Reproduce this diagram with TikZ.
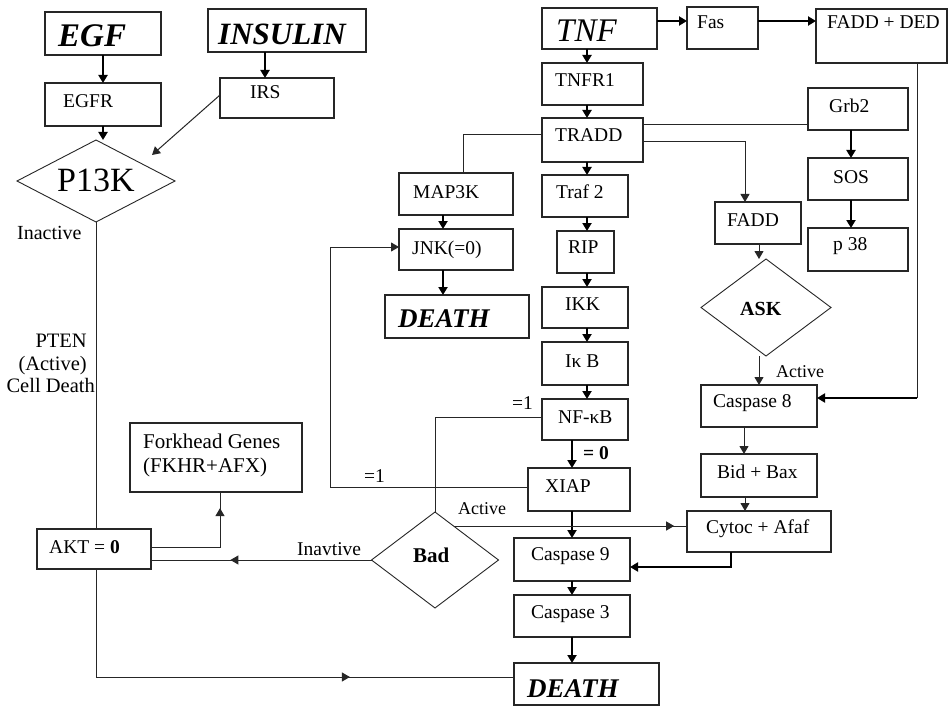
\documentclass[tikz,border=0pt]{standalone}
\usepackage{fontspec}
\setmainfont{Liberation Serif}
\usetikzlibrary{arrows.meta,shapes.geometric,decorations.markings,calc}
\begin{document}
\begin{tikzpicture}[x=1pt,y=-1pt,
  bx/.style={draw=black!85,line width=1.1pt,inner sep=0pt,outer sep=0pt},
  dia/.style={diamond,draw=black!85,line width=0.9pt,inner sep=0pt,outer sep=0pt},
  tx/.style={inner sep=0pt,anchor=base west,font=\fontsize{19.5}{22}\selectfont},
  txe/.style={inner sep=0pt,anchor=base east,font=\fontsize{20.5}{22}\selectfont},
  ln/.style={draw=black!85,line width=1pt},
  thk/.style={draw=black,line width=2.4pt},
  tip/.style={-{Triangle[length=8pt,width=9pt]}},
  midarr/.style={postaction={decorate,decoration={markings,mark=at position #1 with {\arrow{Triangle[length=8pt,width=9pt]}}}}},
]
\fill[white] (0,0) rectangle (951,706);
\useasboundingbox (0,0) rectangle (951,706);

% ---- boxes ----
\node[bx,minimum width=116pt,minimum height=43pt] (egf) at (103,33.5) {};
\node[bx,minimum width=158pt,minimum height=43pt] (insulin) at (287,30.5) {};
\node[bx,minimum width=116pt,minimum height=43pt] (egfr) at (103,104.5) {};
\node[bx,minimum width=114pt,minimum height=40pt] (irs) at (277,98) {};
\node[dia,minimum width=158pt,minimum height=82pt] (p13k) at (96,181) {};
\node[bx,minimum width=115pt,minimum height=41pt] (tnf) at (599.5,28.5) {};
\node[bx,minimum width=71pt,minimum height=42pt] (fas) at (722.5,28) {};
\node[bx,minimum width=131pt,minimum height=54pt] (fadded) at (881.5,36) {};
\node[bx,minimum width=101pt,minimum height=42pt] (tnfr1) at (592.5,84) {};
\node[bx,minimum width=101pt,minimum height=44pt] (tradd) at (592.5,140) {};
\node[bx,minimum width=100pt,minimum height=42pt] (grb2) at (858,109) {};
\node[bx,minimum width=100pt,minimum height=42pt] (sos) at (858,179) {};
\node[bx,minimum width=100pt,minimum height=43pt] (p38) at (858,249.5) {};
\node[bx,minimum width=114pt,minimum height=42pt] (map3k) at (456,194) {};
\node[bx,minimum width=86pt,minimum height=42pt] (traf2) at (585,196) {};
\node[bx,minimum width=86pt,minimum height=42pt] (fadd) at (758,223) {};
\node[bx,minimum width=114pt,minimum height=41pt] (jnk) at (456,249.5) {};
\node[bx,minimum width=57pt,minimum height=42pt] (rip) at (585.5,252) {};
\node[bx,minimum width=144pt,minimum height=43pt] (death1) at (457,316.5) {};
\node[bx,minimum width=86pt,minimum height=41pt] (ikk) at (585,307.5) {};
\node[bx,minimum width=86pt,minimum height=43pt] (ikb) at (585,363.5) {};
\node[dia,minimum width=130pt,minimum height=97pt] (ask) at (766,307.5) {};
\node[bx,minimum width=86pt,minimum height=41pt] (nfkb) at (585,419.5) {};
\node[bx,minimum width=116pt,minimum height=42pt] (casp8) at (759,406) {};
\node[bx,minimum width=116pt,minimum height=43pt] (bidbax) at (759,475.5) {};
\node[bx,minimum width=172pt,minimum height=69pt] (forkhead) at (216,457.5) {};
\node[bx,minimum width=102pt,minimum height=43pt] (xiap) at (579,489.5) {};
\node[bx,minimum width=144pt,minimum height=41pt] (cytoc) at (759,531.5) {};
\node[bx,minimum width=114pt,minimum height=40pt] (akt) at (94,549) {};
\node[dia,minimum width=127pt,minimum height=96pt] (bad) at (435,560) {};
\node[bx,minimum width=116pt,minimum height=43pt] (casp9) at (572,559.5) {};
\node[bx,minimum width=116pt,minimum height=42pt] (casp3) at (572,616) {};
\node[bx,minimum width=145pt,minimum height=42pt] (death2) at (586.5,684) {};

% ---- texts in boxes ----
\node[tx,font=\fontsize{33}{35}\selectfont\bfseries\itshape] (tEgf) at (58,47) {EGF};
\node[tx,font=\fontsize{31}{34}\selectfont\bfseries\itshape] (tIns) at (218,45) {INSULIN};
\node[tx] (tEgfr) at (63,108) {EGFR};
\node[tx] (tIrs) at (250,99) {IRS};
\node[tx,font=\fontsize{34}{36}\selectfont] (tP13k) at (57,192) {P13K};
\node[tx,font=\fontsize{33}{35}\selectfont\itshape] (tTnf) at (556,42) {TNF};
\node[tx] (tFas) at (697,29) {Fas};
\node[tx] (tFadded) at (827,29) {FADD + DED};
\node[tx] (tTnfr1) at (555,87) {TNFR1};
\node[tx] (tTradd) at (555,142) {TRADD};
\node[tx] (tGrb2) at (829,113) {Grb2};
\node[tx] (tSos) at (833,183) {SOS};
\node[tx] (tP38) at (833,251) {p 38};
\node[tx] (tMap3k) at (413,198) {MAP3K};
\node[tx] (tTraf2) at (556,199) {Traf 2};
\node[tx] (tFadd) at (727,226) {FADD};
\node[tx] (tJnk) at (412,254) {JNK(=0)};
\node[tx] (tRip) at (568,253) {RIP};
\node[tx,font=\fontsize{27}{30}\selectfont\bfseries\itshape] (tDeath1) at (398,327) {DEATH};
\node[tx] (tIkk) at (565,310) {IKK};
\node[tx] (tIkb) at (565,367) {Iκ B};
\node[tx,font=\fontsize{20}{22}\selectfont\bfseries] (tAsk) at (740,315) {ASK};
\node[tx] (tNfkb) at (558,423) {NF-κB};
\node[tx] (tCasp8) at (713,407) {Caspase 8};
\node[tx] (tBid) at (717,478) {Bid + Bax};
\node[tx,font=\fontsize{21}{23}\selectfont] (tFork1) at (143,448) {Forkhead Genes};
\node[tx,font=\fontsize{21}{23}\selectfont] (tFork2) at (143,472) {(FKHR+AFX)};
\node[tx] (tXiap) at (545,492) {XIAP};
\node[tx] (tCytoc) at (706,533) {Cytoc + Afaf};
\node[tx] (tAkt) at (49,553) {AKT = \textbf{0}};
\node[tx,font=\fontsize{21}{23}\selectfont\bfseries] (tBad) at (413,562) {Bad};
\node[tx] (tCasp9) at (531,560) {Caspase 9};
\node[tx] (tCasp3) at (531,618) {Caspase 3};
\node[tx,font=\fontsize{27}{30}\selectfont\bfseries\itshape] (tDeath2) at (527,697) {DEATH};

% ---- free labels ----
\node[tx,font=\fontsize{20}{22}\selectfont] (lInact) at (17,240) {Inactive};
\node[txe] (lPten) at (87,347) {PTEN};
\node[txe] (lAct) at (87,370) {(Active)};
\node[txe] (lCell) at (95,392) {Cell Death};
\node[tx] (lEq1a) at (512,409) {=1};
\node[tx,font=\fontsize{19.5}{22}\selectfont\bfseries] (lEq0) at (583,459) {= 0};
\node[tx] (lEq1b) at (364,482) {=1};
\node[tx,font=\fontsize{18}{20}\selectfont] (lActBad) at (458,514) {Active};
\node[tx,font=\fontsize{18}{20}\selectfont] (lActAsk) at (776,377) {Active};
\node[tx] (lInav) at (297,555) {Inavtive};

% ---- column coordinates ----
\coordinate (cA) at (587,0);
\coordinate (cB) at (572,0);
\coordinate (cL) at (330,0);
\coordinate (cR) at (917,0);
\coordinate (cK) at (759,0);
\coordinate (cP) at (152,155);
\coordinate (badNE) at ($(bad.north)+(18.5,14)$);

% ---- connectors ----
\draw[thk,tip] (egf.south) -- (egfr.north);
\draw[thk,tip] ([xshift=-22pt]insulin.south) -- ([xshift=-12pt]irs.north);
\draw[thk,tip] (egfr.south) -- (egfr.south |- p13k.north);
\draw[ln,tip] ([yshift=3pt]irs.west) -- (cP);
\draw[ln] (p13k.south) -- (p13k.south |- akt.north);
\draw[ln,midarr=0.688] (akt.south -| p13k.south) |- ([yshift=7pt]death2.west);
\draw[ln,midarr=0.87] ([yshift=2pt]akt.east) -| ([xshift=4pt]forkhead.south);
\draw[ln,midarr=0.64] (bad.west) -- (bad.west -| akt.east);

\draw[thk,tip] (tnf.south -| cA) -- (tnfr1.north -| cA);
\draw[thk,tip] (tnfr1.south -| cA) -- (tradd.north -| cA);
\draw[thk,tip] (tradd.south -| cA) -- (traf2.north -| cA);
\draw[thk,tip] (traf2.south -| cA) -- (rip.north -| cA);
\draw[thk,tip] (rip.south -| cA) -- (ikk.north -| cA);
\draw[thk,tip] (ikk.south -| cA) -- (ikb.north -| cA);
\draw[thk,tip] (ikb.south -| cA) -- (nfkb.north -| cA);
\draw[thk,tip] (nfkb.south -| cB) -- (xiap.north -| cB);
\draw[thk,tip] (xiap.south -| cB) -- (casp9.north -| cB);
\draw[thk,tip] (casp9.south -| cB) -- (casp3.north -| cB);
\draw[thk,tip] (casp3.south -| cB) -- (death2.north -| cB);

\draw[thk,tip] ([yshift=7.5pt]tnf.east) -- ([yshift=7.5pt]tnf.east -| fas.west);
\draw[thk,tip] ([yshift=7pt]fas.east) -- ([yshift=7pt]fas.east -| fadded.west);
\draw[ln] (fadded.south -| cR) -- ([yshift=8pt]casp8.east -| cR);
\draw[thk,tip] ([yshift=8pt]casp8.east -| cR) -- ([yshift=8pt]casp8.east);

\draw[ln] ([yshift=15pt]tradd.east) -- ([yshift=15pt]tradd.east -| grb2.west);
\draw[ln,tip] ([yshift=-2pt]tradd.east) -| ([xshift=-13pt]fadd.north);
\draw[ln] ([yshift=5pt]tradd.west) -| ([xshift=7pt]map3k.north);
\draw[thk,tip] ([xshift=-7pt]grb2.south) -- ([xshift=-7pt]sos.north);
\draw[thk,tip] ([xshift=-7pt]sos.south) -- ([xshift=-7pt]p38.north);
\draw[thk,tip] ([xshift=-13pt]map3k.south) -- ([xshift=-13pt]jnk.north);
\draw[thk,tip] ([xshift=-13pt]jnk.south) -- ([xshift=-13pt]jnk.south |- death1.north);

\draw[ln,tip] (fadd.south -| cK) -- (ask.north -| cK);
\draw[ln,tip] (ask.south -| cK) -- (casp8.north -| cK);
\draw[ln,tip] ([xshift=-15pt]casp8.south) -- ([xshift=-15pt]bidbax.north);
\draw[ln,tip] ([xshift=-14pt]bidbax.south) -- ([xshift=-14pt]cytoc.north);
\draw[thk,tip] ([xshift=-28pt]cytoc.south) |- ([yshift=-7.5pt]casp9.east);
\draw[ln,midarr=0.945] (badNE) -- (badNE -| cytoc.west);
\draw[ln] ([yshift=2.5pt]nfkb.west) -| (bad.north);
\draw[ln,tip] ([yshift=2.5pt]xiap.west) -- ([yshift=2.5pt]xiap.west -| cL) |- ([yshift=2.5pt]jnk.west);
\end{tikzpicture}
\end{document}
